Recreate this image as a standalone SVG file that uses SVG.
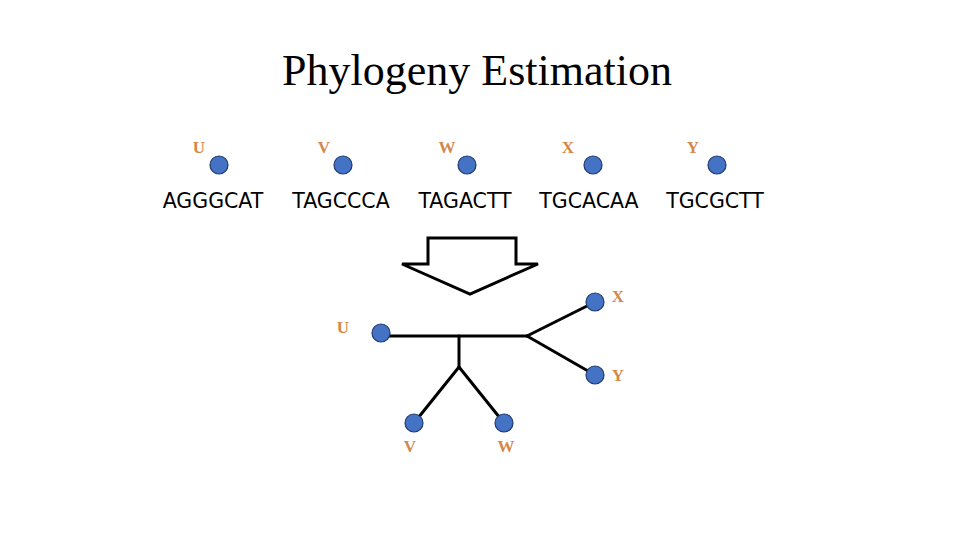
<svg xmlns="http://www.w3.org/2000/svg" width="960" height="540" viewBox="0 0 960 540">
<style>
.node{fill:#4472C4;stroke:#1F3A6E;stroke-width:1.2}
.lbl{font-family:"Liberation Serif",serif;font-weight:bold;font-size:17px;fill:#D4874A;text-anchor:middle}
.seq{font-family:"DejaVu Sans","Liberation Sans",sans-serif;font-size:20.5px;fill:#000;text-anchor:middle}
.edge{stroke:#000;stroke-width:3;fill:none;stroke-linecap:round;stroke-linejoin:round}
</style>
<rect width="960" height="540" fill="#fff"/>
<text x="477" y="85" font-family="Liberation Serif,serif" font-size="44" text-anchor="middle" fill="#000">Phylogeny Estimation</text>
<g id="top-U"><circle class="node" cx="219" cy="165" r="9"/><text class="lbl" x="199" y="153">U</text><text class="seq" x="213" y="208">AGGGCAT</text></g>
<g id="top-V"><circle class="node" cx="343" cy="165" r="9"/><text class="lbl" x="324" y="153">V</text><text class="seq" x="341" y="208">TAGCCCA</text></g>
<g id="top-W"><circle class="node" cx="467" cy="165" r="9"/><text class="lbl" x="447" y="153">W</text><text class="seq" x="465" y="208">TAGACTT</text></g>
<g id="top-X"><circle class="node" cx="593" cy="165" r="9"/><text class="lbl" x="568" y="153">X</text><text class="seq" x="589" y="208">TGCACAA</text></g>
<g id="top-Y"><circle class="node" cx="717" cy="165" r="9"/><text class="lbl" x="693" y="153">Y</text><text class="seq" x="715" y="208">TGCGCTT</text></g>
<g id="arrow"><polygon points="428,238 516,238 516,264 538,264 470,294 402,264 428,264" fill="#fff" stroke="#000" stroke-width="3" stroke-linejoin="miter"/></g>
<g id="connectors">
<polyline class="edge" points="381,336 527,336"/>
<polyline class="edge" points="459,336 459,367"/>
<polyline class="edge" points="459,367 414,423"/>
<polyline class="edge" points="459,367 504,423"/>
<polyline class="edge" points="527,336 595,302"/>
<polyline class="edge" points="527,336 595,375"/>
</g>
<g id="tree-U"><circle class="node" cx="381" cy="333" r="9"/><text class="lbl" x="343" y="333">U</text></g>
<g id="tree-V"><circle class="node" cx="414" cy="423" r="9"/><text class="lbl" x="410" y="452">V</text></g>
<g id="tree-W"><circle class="node" cx="504" cy="423" r="9"/><text class="lbl" x="506" y="452">W</text></g>
<g id="tree-X"><circle class="node" cx="595" cy="302" r="9"/><text class="lbl" x="618" y="302">X</text></g>
<g id="tree-Y"><circle class="node" cx="595" cy="375" r="9"/><text class="lbl" x="618" y="381">Y</text></g>
</svg>
